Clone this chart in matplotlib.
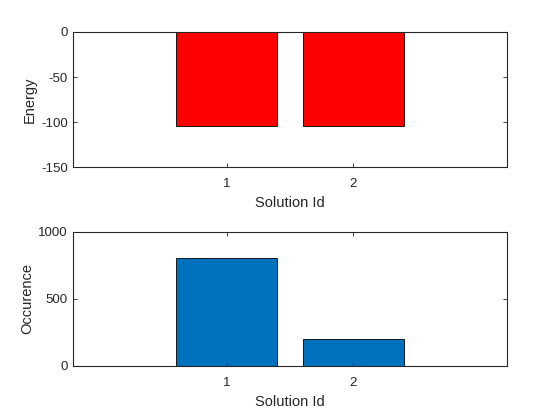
import matplotlib
matplotlib.use('Agg')
import matplotlib.pyplot as plt

ids = [1, 2]
energy = [-104, -104]
occurence = [801, 199]

plt.rcParams['font.family'] = ['Liberation Sans', 'DejaVu Sans']
plt.rcParams['axes.unicode_minus'] = False
dark = '#262626'

fig = plt.figure(figsize=(5.6, 4.2), dpi=100)
ax1 = fig.add_axes([0.131, 0.602, 0.774, 0.322])
ax2 = fig.add_axes([0.131, 0.1286, 0.774, 0.320])

def style(ax):
    ax.set_xlim(-0.21, 3.21)
    ax.set_xticks(ids)
    ax.tick_params(direction='in', top=True, right=True, colors=dark,
                   length=3, width=0.6, labelsize=9.5)
    ax.tick_params(axis='x', pad=8)
    ax.tick_params(axis='y', pad=4)
    for s in ax.spines.values():
        s.set_color(dark)
        s.set_linewidth(0.8)
    ax.set_xlabel('Solution Id', fontsize=10.5, color=dark, labelpad=4)

ax1.bar(ids, energy, width=0.8, color='#ff0000', edgecolor='black', linewidth=0.6)
style(ax1)
ax1.set_ylim(-150, 0)
ax1.set_yticks([-150, -100, -50, 0])
ax1.set_ylabel('Energy', fontsize=10.5, color=dark, labelpad=3)

ax2.bar(ids, occurence, width=0.8, color='#0072BD', edgecolor='black', linewidth=0.6)
style(ax2)
ax2.set_ylim(0, 1000)
ax2.set_yticks([0, 500, 1000])
ax2.set_ylabel('Occurence', fontsize=10.5, color=dark, labelpad=3)

fig.savefig('out.png', dpi=100)
